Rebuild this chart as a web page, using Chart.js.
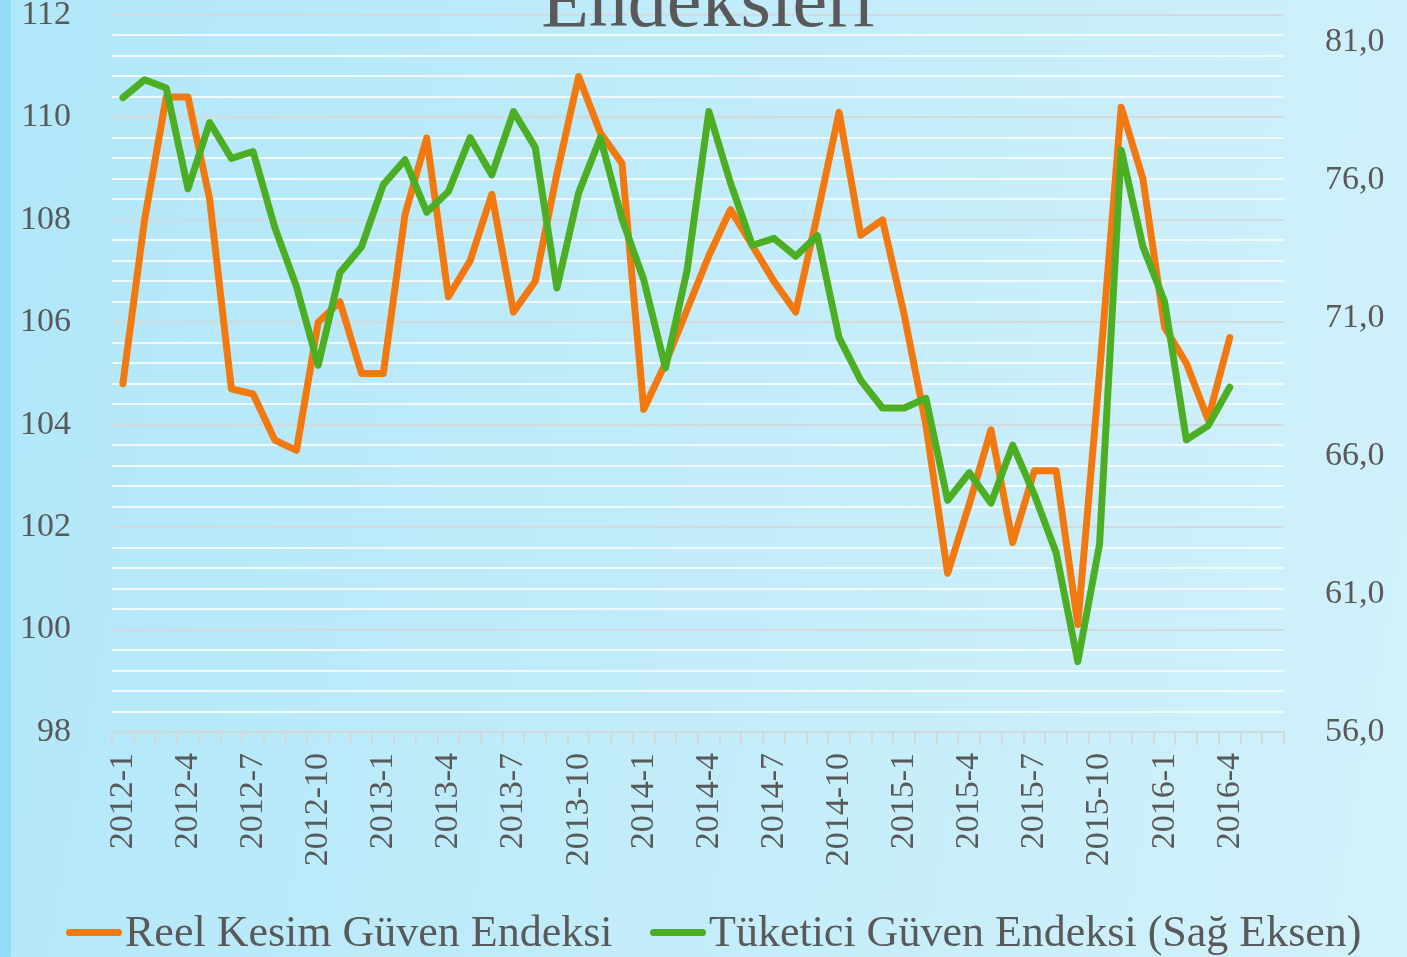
<!DOCTYPE html>
<html>
<head>
<meta charset="utf-8">
<script src="https://cdn.jsdelivr.net/npm/chart.js@4.4.1/dist/chart.umd.min.js"></script>
<style>
  html, body { margin: 0; padding: 0; width: 1407px; height: 957px; overflow: hidden; }
  body {
    position: relative;
    background: linear-gradient(100deg, #b0e7f9 0%, #c2ecfa 50%, #d2f1fb 100%);
    font-family: "Liberation Serif", serif;
    color: #595959;
  }
  .strip { position: absolute; left: 0; top: 0; width: 11px; height: 957px; background: #95ddf6; }
  #chart { position: absolute; left: 0; top: 0; }
  .item { position: absolute; top: 910px; height: 44px; display: flex; align-items: center; white-space: nowrap; }
  .sw { display: inline-block; width: 56px; height: 7px; border-radius: 4px; margin-right: 3px; }
  .tx { font-size: 44px; line-height: 44px; }
</style>
</head>
<body>
<div class="strip"></div>
<canvas id="chart" width="1407" height="957"></canvas>
<div id="legend"></div>

<script>
// ---- data ----
const months = [
  '2012-1','2012-2','2012-3','2012-4','2012-5','2012-6','2012-7','2012-8','2012-9','2012-10','2012-11','2012-12',
  '2013-1','2013-2','2013-3','2013-4','2013-5','2013-6','2013-7','2013-8','2013-9','2013-10','2013-11','2013-12',
  '2014-1','2014-2','2014-3','2014-4','2014-5','2014-6','2014-7','2014-8','2014-9','2014-10','2014-11','2014-12',
  '2015-1','2015-2','2015-3','2015-4','2015-5','2015-6','2015-7','2015-8','2015-9','2015-10','2015-11','2015-12',
  '2016-1','2016-2','2016-3','2016-4','2016-5','2016-6'
];

// Reel Kesim Güven Endeksi (left axis)
const reelKesim = [
  104.8, 108.0, 110.4, 110.4, 108.4, 104.7, 104.6, 103.7, 103.5, 106.0, 106.4, 105.0,
  105.0, 108.1, 109.6, 106.5, 107.2, 108.5, 106.2, 106.8, 108.9, 110.8, 109.7, 109.1,
  104.3, 105.2, 106.25, 107.3, 108.2, 107.5, 106.8, 106.2, 108.1, 110.1, 107.7, 108.0,
  106.15, 104.0, 101.1, 102.45, 103.9, 101.7, 103.1, 103.1, 100.1, 105.0, 110.2, 108.8,
  105.9, 105.2, 104.1, 105.7
];

// Tüketici Güven Endeksi (right axis)
const tuketici = [
  79.0, 79.65, 79.35, 75.7, 78.1, 76.8, 77.05, 74.3, 72.15, 69.3, 72.65, 73.6,
  75.85, 76.75, 74.85, 75.6, 77.55, 76.2, 78.5, 77.2, 72.1, 75.55, 77.55, 74.6,
  72.4, 69.2, 72.75, 78.5, 75.9, 73.65, 73.9, 73.25, 74.0, 70.3, 68.75, 67.75,
  67.75, 68.1, 64.4, 65.4, 64.3, 66.4, 64.6, 62.5, 58.55, 62.8, 77.1, 73.6,
  71.6, 66.6, 67.1, 68.5
];

const leftTicks = [98, 100, 102, 104, 106, 108, 110, 112];
const rightTicks = [56, 61, 66, 71, 76, 81];
const seriesNames = ['Reel Kesim Güven Endeksi', 'Tüketici Güven Endeksi (Sağ Eksen)'];
const seriesColors = ['#f2790f', '#4caf23'];

// ---- helpers ----
const textColor = '#595959';
const tickFont = { family: 'Liberation Serif', size: 34, lineHeight: 1 };

// minor grid every 0.4 on the left axis, labels only on the even values
function buildLeftGrid(scale) {
  const out = [];
  for (let k = 0; k <= 35; k++) {
    out.push({ value: Math.round((scale.min + k * 0.4) * 10) / 10 });
  }
  scale.ticks = out;
}

// keep the plot area where the layout padding puts it
function noPad(s) {
  s.paddingTop = 0;
  s.paddingBottom = 0;
  s.paddingLeft = 0;
  s.paddingRight = 0;
}

const partialTitle = {
  id: 'partialTitle',
  afterDraw(chart) {
    const c = chart.ctx;
    c.save();
    c.font = '78px "Liberation Serif"';
    c.fillStyle = textColor;
    c.textAlign = 'center';
    c.textBaseline = 'alphabetic';
    c.fillText('Endeksleri', 708, 26);
    c.restore();
  }
};

new Chart(document.getElementById('chart'), {
  type: 'line',
  data: {
    labels: months,
    datasets: [
      {
        label: seriesNames[0],
        data: reelKesim,
        yAxisID: 'y',
        borderColor: seriesColors[0],
        backgroundColor: seriesColors[0],
        borderWidth: 7,
        pointRadius: 0,
        tension: 0,
        borderJoinStyle: 'round',
        borderCapStyle: 'round',
        order: 1
      },
      {
        label: seriesNames[1],
        data: tuketici,
        yAxisID: 'y1',
        borderColor: seriesColors[1],
        backgroundColor: seriesColors[1],
        borderWidth: 7,
        pointRadius: 0,
        tension: 0,
        borderJoinStyle: 'round',
        borderCapStyle: 'round',
        order: 0
      }
    ]
  },
  options: {
    responsive: false,
    devicePixelRatio: 1,
    animation: false,
    layout: { padding: { top: 15, left: 0, right: 0, bottom: 0 } },
    plugins: {
      legend: { display: false },
      tooltip: { enabled: false }
    },
    scales: {
      x: {
        type: 'category',
        offset: true,
        grid: {
          offset: true,
          drawOnChartArea: false,
          drawTicks: true,
          tickLength: 13,
          color: '#d3d8da',
          lineWidth: 2
        },
        border: { display: true, color: '#d3d8da', width: 2 },
        ticks: {
          autoSkip: false,
          maxRotation: 90,
          minRotation: 90,
          padding: 8,
          color: textColor,
          font: tickFont,
          callback: (v, i) => (i % 3 === 0 ? months[i] : '')
        },
        afterFit: (s) => { noPad(s); s.height = 225; }
      },
      y: {
        position: 'left',
        min: 98,
        max: 112,
        afterBuildTicks: buildLeftGrid,
        grid: {
          drawTicks: false,
          lineWidth: 2,
          color: (ctx) => (ctx.tick && leftTicks.includes(ctx.tick.value) ? '#d4d9dc' : 'rgba(246,249,251,0.9)')
        },
        border: { display: false },
        ticks: {
          autoSkip: false,
          padding: 41,
          color: textColor,
          font: tickFont,
          callback: (v) => (leftTicks.includes(v) ? String(v) : '')
        },
        afterFit: (s) => { noPad(s); s.width = 112; }
      },
      y1: {
        position: 'right',
        min: 56,
        max: 82,
        afterBuildTicks: (s) => { s.ticks = rightTicks.map(v => ({ value: v })); },
        grid: { drawOnChartArea: false, drawTicks: false },
        border: { display: false },
        ticks: {
          autoSkip: false,
          padding: 41,
          color: textColor,
          font: tickFont,
          callback: (v) => v.toFixed(1).replace('.', ',')
        },
        afterFit: (s) => { noPad(s); s.width = 123; }
      }
    }
  },
  plugins: [partialTitle]
});

// ---- legend (Excel-style, line swatch right next to the text) ----
const legendLeft = [66, 650];
const legendEl = document.getElementById('legend');
seriesNames.forEach((name, i) => {
  const item = document.createElement('div');
  item.className = 'item';
  item.style.left = legendLeft[i] + 'px';
  item.innerHTML = `<span class="sw" style="background:${seriesColors[i]}"></span><span class="tx">${name}</span>`;
  legendEl.appendChild(item);
});
</script>
</body>
</html>
